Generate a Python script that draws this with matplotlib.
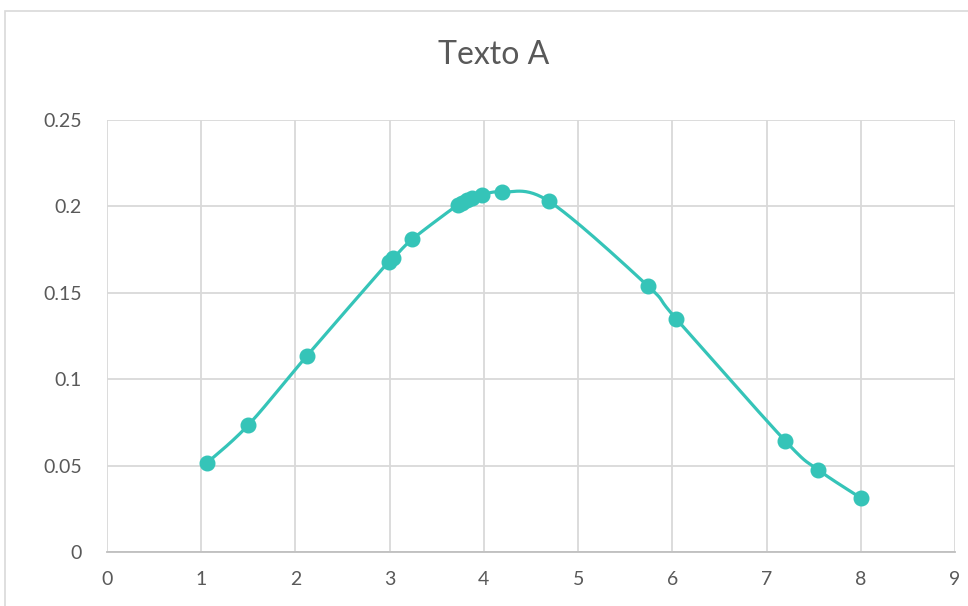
import numpy as np
import matplotlib.pyplot as plt
from matplotlib.patches import Rectangle

# values
x_vals = [1.06, 1.50, 2.12, 2.99, 3.04, 3.24, 3.72, 3.77, 3.82, 3.87, 3.98, 4.19, 4.69,
          5.74, 6.04, 7.20, 7.55, 8.00]
y_vals = [0.0515, 0.0735, 0.1134, 0.1680, 0.1700, 0.1810, 0.2008, 0.2020, 0.2037, 0.2050,
          0.2066, 0.2083, 0.2030, 0.1540, 0.1350, 0.0642, 0.0475, 0.0313]
title = "Texto A"
x_ticks = list(range(0, 10))
y_ticks = [0, 0.05, 0.1, 0.15, 0.2, 0.25]
y_labels = ["0", "0.05", "0.1", "0.15", "0.2", "0.25"]

teal = "#35C4B8"
grid_c = "#D9D9D9"
text_c = "#595959"

plt.rcParams['font.family'] = ['Lato', 'DejaVu Sans']

fig = plt.figure(figsize=(9.68, 6.06), dpi=100)
ax = fig.add_axes([107 / 968, 54 / 606, 848 / 968, 432 / 606])
ax.set_xlim(0, 9)
ax.set_ylim(0, 0.25)


def smooth(xs, ys, sx, sy, n=30):
    # excel-style smoothed line: cubic bezier with catmull-rom control points,
    # computed in (roughly) screen space
    p = np.column_stack([np.array(xs) * sx, np.array(ys) * sy])
    out = []
    for i in range(len(p) - 1):
        p0 = p[i - 1] if i > 0 else p[i]
        p1, p2 = p[i], p[i + 1]
        p3 = p[i + 2] if i + 2 < len(p) else p[i + 1]
        c1 = p1 + (p2 - p0) / 6
        c2 = p2 - (p3 - p1) / 6
        t = np.linspace(0, 1, n)[:, None]
        seg = ((1 - t) ** 3) * p1 + 3 * ((1 - t) ** 2) * t * c1 + 3 * (1 - t) * t ** 2 * c2 + t ** 3 * p2
        out.append(seg if i == 0 else seg[1:])
    out = np.vstack(out)
    return out[:, 0] / sx, out[:, 1] / sy


sx_, sy_ = smooth(x_vals, y_vals, 848 / 9, 432 / 0.25)
ax.plot(sx_, sy_, color=teal, lw=2.3, zorder=3, solid_capstyle='round')
ax.plot(x_vals, y_vals, 'o', color=teal, ms=10.5, zorder=4)

ax.set_xticks(x_ticks)
ax.set_yticks(y_ticks)
ax.set_yticklabels(y_labels)
ax.grid(True, color=grid_c, lw=1.3)
ax.set_axisbelow(True)
for s in ['top', 'right', 'left']:
    ax.spines[s].set_visible(False)
ax.spines['bottom'].set_color('#BFBFBF')
ax.spines['bottom'].set_linewidth(1.3)
ax.tick_params(length=0, labelsize=14, colors=text_c)
ax.tick_params(axis='y', pad=18)
ax.tick_params(axis='x', pad=14)

fig.text(494 / 968, 1 - 55 / 606, title, ha='center', va='center', fontsize=23, color=text_c)

# chart area border
fig.patches.append(Rectangle((5 / 968, -0.05), 1.0, 1 - 11 / 606 + 0.05, transform=fig.transFigure,
                             fill=False, edgecolor='#D9D9D9', lw=1.2))

fig.savefig("out.png", dpi=100)
